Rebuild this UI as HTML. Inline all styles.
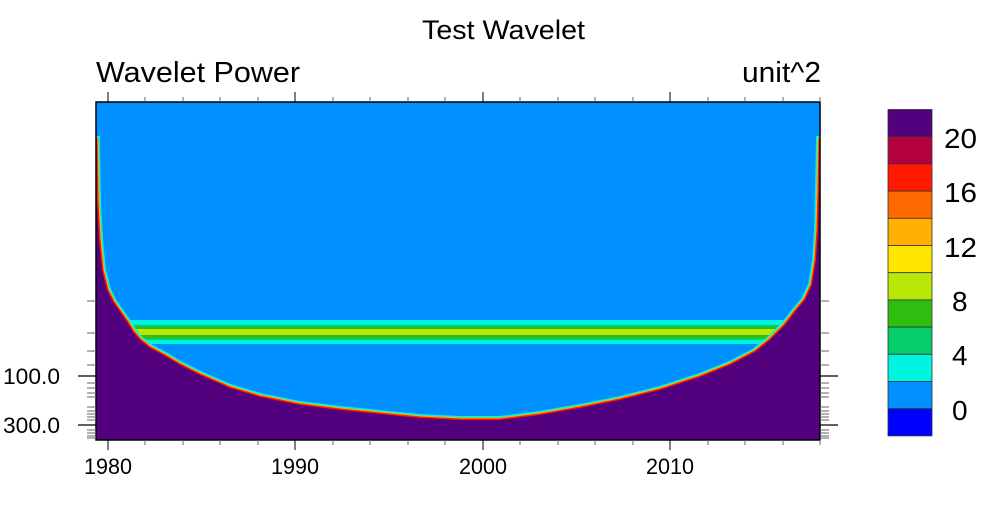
<!DOCTYPE html>
<html><head><style>body{margin:0;background:#fff}svg{display:block}</style></head><body>
<svg width="984" height="506" xmlns="http://www.w3.org/2000/svg" font-family="Liberation Sans, sans-serif">
<text x="422" y="39" font-size="27" textLength="163" lengthAdjust="spacingAndGlyphs">Test Wavelet</text>
<text x="96" y="82" font-size="29" textLength="204" lengthAdjust="spacingAndGlyphs">Wavelet Power</text>
<text x="742" y="82" font-size="29" textLength="79" lengthAdjust="spacingAndGlyphs">unit^2</text>
<defs>
<clipPath id="c"><rect x="96" y="102" width="724" height="338"/></clipPath>
<path id="b" d="M96,140 L97,200 L99,240 L102,270 L107,290 L113,302 L120,312 L127,322 L133,332 L140,340 L150,348 L165,356 L180,365 L200,375 L230,388 L260,397 L300,405 L340,410 L380,414 L420,418 L460,420 L500,420 L540,415 L580,408 L620,400 L660,390 L700,377 L730,365 L755,352 L770,340 L785,325 L795,312 L805,300 L812,285 L816,260 L818,230 L819,190 L820,140 L830,140 L830,460 L86,460 L86,140 Z"/>
</defs>
<rect x="96" y="102" width="724" height="338" fill="#0090ff"/>
<g clip-path="url(#c)">
<rect x="120" y="320" width="680" height="24" fill="#00f5e0"/>
<rect x="120" y="325" width="680" height="15" fill="#05cd6a"/>
<rect x="120" y="327" width="680" height="11" fill="#2fbd10"/>
<rect x="120" y="329" width="680" height="6" fill="#b9e707"/>
<use href="#b" fill="none" stroke="#00f5e0" stroke-width="8"/>
<use href="#b" fill="none" stroke="#ffb000" stroke-width="5"/>
<use href="#b" fill="none" stroke="#ff1a00" stroke-width="3"/>
<use href="#b" fill="#52007d"/>
</g>
<rect x="96" y="102" width="724" height="338" fill="none" stroke="#000" stroke-width="1.5"/>
<g stroke="#000" stroke-width="1">
<path d="M108,102v-10M295,102v-10M483,102v-10M670,102v-10M108,440v10M295,440v10M483,440v10M670,440v10"/>
</g>
<g stroke="#666" stroke-width="1">
<path d="M145,102v-5M183,102v-5M220,102v-5M258,102v-5M333,102v-5M370,102v-5M408,102v-5M445,102v-5M520,102v-5M558,102v-5M595,102v-5M633,102v-5M708,102v-5M745,102v-5M783,102v-5M820,102v-5
M145,440v5M183,440v5M220,440v5M258,440v5M333,440v5M370,440v5M408,440v5M445,440v5M520,440v5M558,440v5M595,440v5M633,440v5M708,440v5M745,440v5M783,440v5M820,440v5"/>
<path d="M87,301h9M87,333h9M87,351h9M87,365h9M87,383h9M87,388h9M87,393h9M87,397h9M87,407h9M87,411h9M87,414h9M87,417h9M87,420h9M87,430h9M87,433h9M87,436h9M87,438h9
M820,301h9M820,333h9M820,351h9M820,365h9M820,383h9M820,388h9M820,393h9M820,397h9M820,407h9M820,411h9M820,414h9M820,417h9M820,420h9M820,430h9M820,433h9M820,436h9M820,438h9"/>
</g>
<g stroke="#000" stroke-width="1.2"><path d="M78,376h18M78,425h18M820,376h18M820,425h18"/></g>
<g font-size="22">
<text x="84" y="474" textLength="48" lengthAdjust="spacingAndGlyphs">1980</text>
<text x="271" y="474" textLength="48" lengthAdjust="spacingAndGlyphs">1990</text>
<text x="459" y="474" textLength="48" lengthAdjust="spacingAndGlyphs">2000</text>
<text x="646" y="474" textLength="48" lengthAdjust="spacingAndGlyphs">2010</text>
<text x="3" y="384" textLength="57" lengthAdjust="spacingAndGlyphs">100.0</text>
<text x="3" y="433" textLength="57" lengthAdjust="spacingAndGlyphs">300.0</text>
</g>
<g stroke="#333" stroke-width="0.8">
<rect x="888" y="109.5" width="44" height="27.2" fill="#52007d"/>
<rect x="888" y="136.7" width="44" height="27.2" fill="#b3003e"/>
<rect x="888" y="163.9" width="44" height="27.2" fill="#ff1a00"/>
<rect x="888" y="191.1" width="44" height="27.2" fill="#ff6a00"/>
<rect x="888" y="218.3" width="44" height="27.2" fill="#ffb000"/>
<rect x="888" y="245.5" width="44" height="27.2" fill="#ffe500"/>
<rect x="888" y="272.7" width="44" height="27.2" fill="#b9e707"/>
<rect x="888" y="299.9" width="44" height="27.2" fill="#2fbd10"/>
<rect x="888" y="327.1" width="44" height="27.2" fill="#05cd6a"/>
<rect x="888" y="354.3" width="44" height="27.2" fill="#00f5e0"/>
<rect x="888" y="381.5" width="44" height="27.2" fill="#0090ff"/>
<rect x="888" y="408.7" width="44" height="27.2" fill="#0000ff"/>
</g>
<g font-size="28">
<text x="944" y="148" textLength="33" lengthAdjust="spacingAndGlyphs">20</text>
<text x="944" y="202" textLength="33" lengthAdjust="spacingAndGlyphs">16</text>
<text x="944" y="257" textLength="33" lengthAdjust="spacingAndGlyphs">12</text>
<text x="952" y="311">8</text>
<text x="952" y="365">4</text>
<text x="952" y="420">0</text>
</g>
</svg>
</body></html>
